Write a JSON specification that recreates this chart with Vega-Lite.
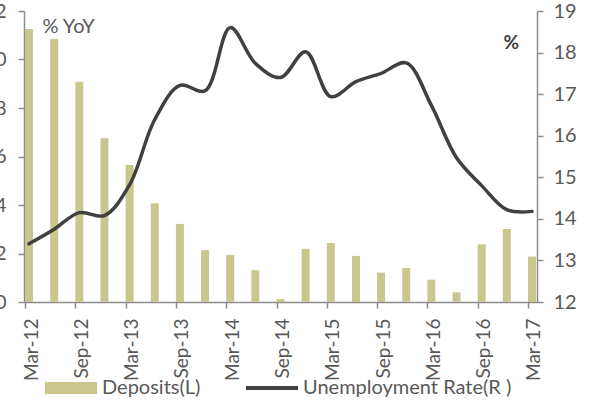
{
  "$schema": "https://vega.github.io/schema/vega-lite/v6.json",
  "width": 513,
  "height": 291,
  "autosize": {"type": "none"},
  "padding": {"left": 24, "top": 11, "right": 55, "bottom": 99},
  "background": "white",
  "config": {
    "view": {"stroke": null},
    "font": "Lato",
    "axis": {
      "domainColor": "#8c8c8c",
      "domainWidth": 1.5,
      "tickColor": "#8c8c8c",
      "tickWidth": 1.5,
      "tickSize": 6,
      "labelColor": "#595959",
      "labelFont": "Lato",
      "labelFontSize": 20,
      "grid": false,
      "titleColor": "#595959",
      "titleFont": "Lato"
    }
  },
  "data": {
    "values": [
      {"q": "Mar-12", "deposits": 11.26, "unemployment": 13.40},
      {"q": "Jun-12", "deposits": 10.85, "unemployment": 13.75},
      {"q": "Sep-12", "deposits": 9.08, "unemployment": 14.15},
      {"q": "Dec-12", "deposits": 6.75, "unemployment": 14.08},
      {"q": "Mar-13", "deposits": 5.65, "unemployment": 14.82},
      {"q": "Jun-13", "deposits": 4.07, "unemployment": 16.39},
      {"q": "Sep-13", "deposits": 3.22, "unemployment": 17.21},
      {"q": "Dec-13", "deposits": 2.14, "unemployment": 17.08},
      {"q": "Mar-14", "deposits": 1.94, "unemployment": 18.60},
      {"q": "Jun-14", "deposits": 1.31, "unemployment": 17.74},
      {"q": "Sep-14", "deposits": 0.12, "unemployment": 17.40},
      {"q": "Dec-14", "deposits": 2.19, "unemployment": 18.02},
      {"q": "Mar-15", "deposits": 2.43, "unemployment": 16.94},
      {"q": "Jun-15", "deposits": 1.90, "unemployment": 17.30},
      {"q": "Sep-15", "deposits": 1.21, "unemployment": 17.50},
      {"q": "Dec-15", "deposits": 1.40, "unemployment": 17.75},
      {"q": "Mar-16", "deposits": 0.92, "unemployment": 16.73},
      {"q": "Jun-16", "deposits": 0.40, "unemployment": 15.47},
      {"q": "Sep-16", "deposits": 2.38, "unemployment": 14.80},
      {"q": "Dec-16", "deposits": 3.01, "unemployment": 14.22},
      {"q": "Mar-17", "deposits": 1.87, "unemployment": 14.18}
    ]
  },
  "encoding": {
    "x": {
      "field": "q",
      "type": "ordinal",
      "sort": null,
      "scale": {"type": "point", "padding": 0.2},
      "axis": {
        "title": null,
        "values": ["Mar-12", "Sep-12", "Mar-13", "Sep-13", "Mar-14", "Sep-14", "Mar-15", "Sep-15", "Mar-16", "Sep-16", "Mar-17"],
        "labelAngle": 270,
        "labelFontSize": 19,
        "tickOffset": -4,
        "labelOffset": 6,
        "labelPadding": 10
      }
    }
  },
  "layer": [
    {
      "mark": {"type": "bar", "size": 8},
      "encoding": {
        "y": {
          "field": "deposits",
          "type": "quantitative",
          "scale": {"domain": [0, 12], "nice": false},
          "axis": {
            "values": [0, 2, 4, 6, 8, 10, 12],
            "title": "% YoY",
            "titleAngle": 0,
            "titleX": 18,
            "titleY": 21,
            "titleAlign": "left",
            "titleBaseline": "alphabetic",
            "titleFontWeight": "normal",
            "titleFontSize": 20,
            "labelPadding": 12
          }
        },
        "color": {
          "datum": "Deposits(L)",
          "scale": {"domain": ["Deposits(L)", "Unemployment Rate(R )"], "range": ["#C9C78D", "#404040"]},
          "legend": {
            "orient": "none",
            "legendX": 21,
            "legendY": 351,
            "direction": "horizontal",
            "columns": 2,
            "title": null,
            "padding": 0,
            "symbolSize": 2704,
            "labelFont": "Lato",
            "labelFontSize": 20,
            "labelColor": "#595959",
            "labelLimit": 400,
            "labelOffset": 5,
            "columnPadding": 45,
            "encode": {
              "symbols": {
                "update": {
                  "shape": {"signal": "datum.value === 'Deposits(L)' ? 'M-1,-0.23H1V0.23H-1Z' : 'M-1,-0.08H1V0.08H-1Z'"},
                  "fill": {"signal": "scale('color', datum.value)"},
                  "strokeWidth": {"value": 0},
                  "opacity": {"value": 1},
                  "fillOpacity": {"value": 1}
                }
              }
            }
          }
        }
      }
    },
    {
      "mark": {"type": "line", "interpolate": "catmull-rom", "strokeWidth": 3.5, "strokeCap": "round"},
      "encoding": {
        "y": {
          "field": "unemployment",
          "type": "quantitative",
          "scale": {"domain": [12, 19], "nice": false, "zero": false},
          "axis": {
            "orient": "right",
            "values": [12, 13, 14, 15, 16, 17, 18, 19],
            "title": "%",
            "titleAngle": 0,
            "titleX": -34,
            "titleY": 37,
            "titleAlign": "left",
            "titleBaseline": "alphabetic",
            "titleFontWeight": "bold",
            "titleFontSize": 19,
            "titleColor": "#404040",
            "labelPadding": 10
          }
        },
        "color": {"datum": "Unemployment Rate(R )", "legend": null}
      }
    }
  ],
  "resolve": {"scale": {"y": "independent"}}
}
